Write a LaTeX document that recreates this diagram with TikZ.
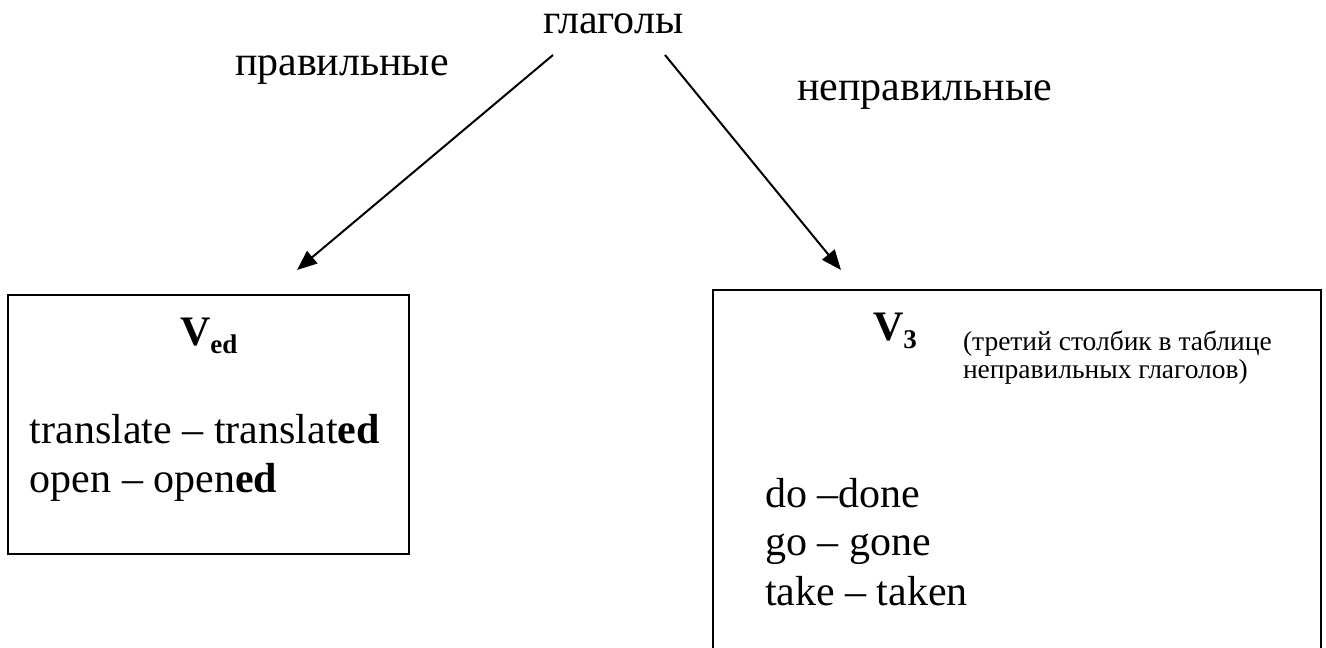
\documentclass[tikz,border=0pt]{standalone}
\usepackage{fontspec}
\setmainfont{Liberation Serif}
\usetikzlibrary{arrows.meta}
\newlength{\mylinewidth}
\setlength{\mylinewidth}{2pt}

\begin{document}
\begin{tikzpicture}[x=1pt,y=-1pt,%
            every node/.style={inner sep=0pt,outer sep=0pt,anchor=base west},%
            bigtext/.style={font=\fontsize{42}{48}\selectfont},%
            boldtext/.style={font=\fontsize{42}{48}\selectfont\bfseries},%
            smalltext/.style={font=\fontsize{27.5}{30}\selectfont},%
            arrow/.style={line width=\mylinewidth,-{Triangle[length=20pt,width=16pt]}},%
            frame/.style={draw,line width=\mylinewidth},%
            ]
        \useasboundingbox (0,0) rectangle (1326,648);
        % head and the two kinds
        \node[bigtext] (verbs) at (543,33) {глаголы};
        \node[bigtext] (regular) at (235,75) {правильные};
        \node[bigtext] (irregular) at (797,100) {неправильные};
        \coordinate (regstart) at (553,55);
        \coordinate (regend) at (297,270);
        \coordinate (irrstart) at (665,55);
        \coordinate (irrend) at (841,270);
        \draw[arrow] (regstart) -- (regend);
        \draw[arrow] (irrstart) -- (irrend);
        % left box
        \node[frame,anchor=north west,minimum width=401pt,minimum height=259pt] (regbox) at (8,295) {};
        \node[boldtext] (ved) at (180,345) {V\raisebox{-8pt}{\fontsize{27}{30}\selectfont ed}};
        \node[bigtext] (translate) at (30,443) {translate – translat\textbf{ed}};
        \node[bigtext] (open) at (30,492) {open – open\textbf{ed}};
        % right box, open at the bottom
        \draw[frame] (713,648) -- (713,290) -- (1321,290) -- (1321,648);
        \node[boldtext] (vthree) at (873,340) {V\raisebox{-8pt}{\fontsize{27}{30}\selectfont 3}};
        \node[smalltext] (note1) at (963,350) {(третий столбик в таблице};
        \node[smalltext] (note2) at (963,378) {неправильных глаголов)};
        \node[bigtext] (do) at (765,507) {do –done};
        \node[bigtext] (go) at (765,555) {go – gone};
        \node[bigtext] (take) at (765,605) {take – taken};
\end{tikzpicture}
\end{document}
